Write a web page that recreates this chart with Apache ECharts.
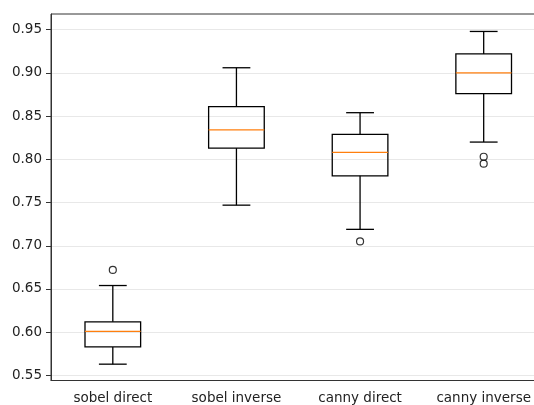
<!DOCTYPE html>
<html>
<head>
<meta charset="utf-8">
<script src="https://cdn.jsdelivr.net/npm/echarts@6/dist/echarts.min.js"></script>
<style>
html,body{margin:0;padding:0;background:#fff;}
#chart{width:534px;height:405px;}
</style>
</head>
<body>
<div id="chart"></div>
<script>
// categories
const categories = ['sobel direct', 'sobel inverse', 'canny direct', 'canny inverse'];
// box statistics: [lowerWhisker, Q1, median, Q3, upperWhisker]
const lowerWhisker = [0.563, 0.747, 0.719, 0.820];
const q1Values     = [0.583, 0.813, 0.781, 0.876];
const medians      = [0.601, 0.834, 0.808, 0.900];
const q3Values     = [0.612, 0.861, 0.829, 0.922];
const upperWhisker = [0.654, 0.906, 0.854, 0.948];
// outliers: [categoryIndex, value]
const outlierCats   = [0, 2, 3, 3];
const outlierValues = [0.672, 0.705, 0.803, 0.795];
// y tick labels
const yTicks = [0.55, 0.60, 0.65, 0.70, 0.75, 0.80, 0.85, 0.90, 0.95];
const yMin = 0.5441, yMax = 0.9682;

const boxData = categories.map((c, i) => [i, lowerWhisker[i], q1Values[i], medians[i], q3Values[i], upperWhisker[i]]);
const outlierData = outlierCats.map((c, i) => [c, outlierValues[i]]);

const chart = echarts.init(document.getElementById('chart'), null, {renderer: 'canvas'});
const font = 'DejaVu Sans';
chart.setOption({
  animation: false,
  backgroundColor: '#fff',
  grid: {left: 51, top: 14, width: 494.5, height: 366.5, show: true, borderColor: '#333', borderWidth: 1,
         outerBoundsMode: 'none', containLabel: false},
  xAxis: {
    type: 'category',
    data: categories,
    boundaryGap: true,
    axisLine: {lineStyle: {color: '#333', width: 1}},
    axisTick: {alignWithLabel: true, length: 5, lineStyle: {color: '#333', width: 1}},
    axisLabel: {interval: 0, hideOverlap: false, color: '#222', fontFamily: font, fontSize: 13.5, margin: 11},
    splitLine: {show: false}
  },
  yAxis: {
    type: 'value',
    min: yMin,
    max: yMax,
    splitNumber: 8,
    axisLine: {show: true, lineStyle: {color: '#333', width: 1}},
    axisTick: {show: true, length: 5, customValues: yTicks, lineStyle: {color: '#333', width: 1}},
    axisLabel: {customValues: yTicks, color: '#222', fontFamily: font, fontSize: 13.5, margin: 9,
      formatter: v => v.toFixed(2)},
    splitLine: {show: true, lineStyle: {color: '#e8e8e8', width: 1}}
  },
  series: [
    {
      type: 'custom',
      data: boxData,
      encode: {x: 0, y: [1, 2, 3, 4, 5]},
      renderItem: function (params, api) {
        const x = api.value(0);
        const lo = api.coord([x, api.value(1)]);
        const q1 = api.coord([x, api.value(2)]);
        const md = api.coord([x, api.value(3)]);
        const q3 = api.coord([x, api.value(4)]);
        const hi = api.coord([x, api.value(5)]);
        const band = api.size([1, 0])[0];
        const hw = band * 0.45 / 2;
        const cw = hw / 2;
        const cx = lo[0];
        const ls = {stroke: '#000', lineWidth: 1.3, fill: null};
        return {
          type: 'group',
          children: [
            {type: 'line', shape: {x1: cx, y1: lo[1], x2: cx, y2: q1[1]}, style: ls},
            {type: 'line', shape: {x1: cx, y1: q3[1], x2: cx, y2: hi[1]}, style: ls},
            {type: 'line', shape: {x1: cx - cw, y1: lo[1], x2: cx + cw, y2: lo[1]}, style: ls},
            {type: 'line', shape: {x1: cx - cw, y1: hi[1], x2: cx + cw, y2: hi[1]}, style: ls},
            {type: 'rect', shape: {x: cx - hw, y: q3[1], width: 2 * hw, height: q1[1] - q3[1]}, style: {stroke: '#000', lineWidth: 1.3, fill: 'rgba(0,0,0,0)'}},
            {type: 'line', shape: {x1: cx - hw, y1: md[1], x2: cx + hw, y2: md[1]}, style: {stroke: '#ff7f0e', lineWidth: 1.3}}
          ]
        };
      }
    },
    {
      type: 'scatter',
      data: outlierData,
      symbol: 'circle',
      symbolSize: 7,
      itemStyle: {color: 'rgba(0,0,0,0)', borderColor: '#000', borderWidth: 1.2}
    }
  ]
});
</script>
</body>
</html>
